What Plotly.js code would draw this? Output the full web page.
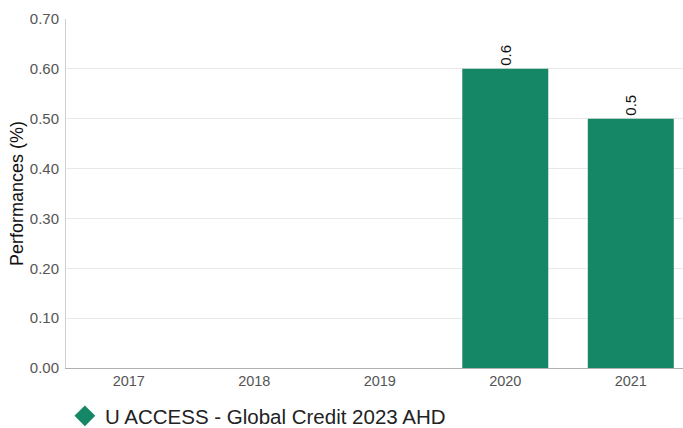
<!DOCTYPE html>
<html>
<head>
<meta charset="utf-8">
<script src="https://cdn.plot.ly/plotly-3.0.1.min.js"></script>
<style>html,body{margin:0;padding:0;background:#fff;} #chart{width:683px;height:428px;}</style>
</head>
<body>
<div id="chart"></div>
<script>
const years = ["2017", "2018", "2019", "2020", "2021"];
const performances = [null, null, null, 0.6, 0.5];
const barLabels = ["", "", "", "0.6", "0.5"];
const seriesName = "U ACCESS - Global Credit 2023 AHD";
const yTickVals = [0, 0.1, 0.2, 0.3, 0.4, 0.5, 0.6, 0.7];

const green = "#168766";
const fontFamily = "Liberation Sans, Arial, sans-serif";

const traces = [
  {
    type: "bar",
    x: years,
    y: performances,
    text: barLabels,
    textposition: "outside",
    textangle: -90,
    cliponaxis: false,
    textfont: {family: fontFamily, size: 15, color: "#111"},
    marker: {color: green},
    showlegend: false,
    hoverinfo: "x+y"
  },
  {
    type: "scatter",
    mode: "markers",
    x: [null],
    y: [null],
    name: seriesName,
    marker: {symbol: "diamond", color: green, size: 16},
    showlegend: true
  }
];

const layout = {
  width: 683,
  height: 428,
  margin: {l: 66, r: 0, t: 19, b: 60},
  paper_bgcolor: "#fff",
  plot_bgcolor: "#fff",
  font: {family: fontFamily, color: "#555"},
  bargap: 0.315,
  xaxis: {
    type: "category",
    range: [-0.5, 4.416],
    showgrid: false,
    showline: true,
    linecolor: "#b0b0b0",
    linewidth: 1,
    ticks: "",
    tickfont: {size: 14.5, color: "#555"},
    fixedrange: true
  },
  yaxis: {
    range: [0, 0.7],
    tickvals: yTickVals,
    tickformat: ".2f",
    showgrid: true,
    gridcolor: "#e8e8e8",
    gridwidth: 1,
    zeroline: false,
    showline: true,
    linecolor: "#d0d0d0",
    linewidth: 1,
    ticks: "",
    ticklen: 0,
    ticklabelstandoff: 3,
    tickfont: {size: 15, color: "#555"},
    title: {text: "Performances (%)", font: {size: 18, color: "#111"}, standoff: 1},
    fixedrange: true
  },
  showlegend: true,
  legend: {
    orientation: "h",
    xref: "container",
    yref: "container",
    x: 0.095,
    xanchor: "left",
    y: 0.028,
    yanchor: "middle",
    font: {size: 20.5, color: "#222"},
    bgcolor: "rgba(0,0,0,0)"
  }
};

Plotly.newPlot("chart", traces, layout, {displayModeBar: false, staticPlot: true});
</script>
</body>
</html>
